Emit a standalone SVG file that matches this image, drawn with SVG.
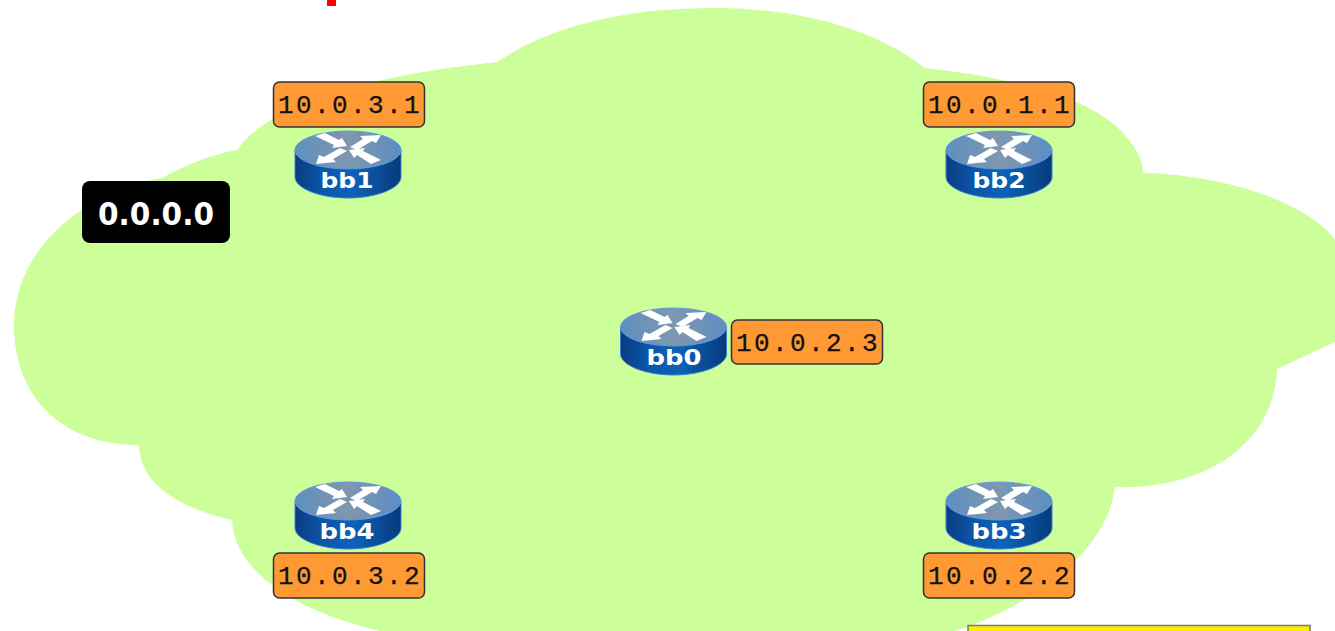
<svg xmlns="http://www.w3.org/2000/svg" xmlns:xlink="http://www.w3.org/1999/xlink" width="1335" height="631" viewBox="0 0 1335 631">
<style>
.lbl{fill:#ff9933;stroke:#333;stroke-width:1.5}
.ip{font-family:"Liberation Mono",monospace;font-size:26px;fill:#111;letter-spacing:2.4px;text-anchor:middle;stroke:#111;stroke-width:.25}
.rn{font-family:"DejaVu Sans",sans-serif;font-weight:700;font-size:22px;fill:#fff;text-anchor:middle}
.arr{fill:#fff}
</style>
<defs>
<linearGradient id="side" x1="0" x2="1" y1="0" y2="0">
<stop offset="0" stop-color="#0a3c80"/><stop offset=".25" stop-color="#0b55a8"/><stop offset=".55" stop-color="#0d62b8"/><stop offset="1" stop-color="#073a7c"/>
</linearGradient>
<linearGradient id="top" x1="0" x2="1" y1="0" y2="0">
<stop offset="0" stop-color="#5f8fc0"/><stop offset=".5" stop-color="#7f97ae"/><stop offset="1" stop-color="#5c8ec4"/>
</linearGradient>
<g id="router">
<path d="M0 19V46C0 57 24 67 53 67S106 57 106 46V19Z" fill="url(#side)" stroke="#3f7fd0" stroke-width="1"/>
<ellipse cx="53" cy="19" rx="53" ry="19" fill="url(#top)" stroke="#5f9ae0" stroke-width="1"/>
<path class="arr" d="M20 5L30 2L44 9L47 7L52 15L37 17L39 14Z"/>
<path class="arr" d="M55 16L68 8L65 5L86 4L81 12L77 10L62 19Z"/>
<path class="arr" d="M52 20L38 28L41 31L21 33L24 24L29 26L45 17Z"/>
<path class="arr" d="M86 29L76 33L62 24L59 27L54 19L70 17L68 20Z"/>
</g>
</defs>
<rect width="1335" height="631" fill="#fff"/>
<rect x="327" y="0" width="9" height="6" fill="#ff0000"/>
<path id="cloud" fill="#ccff99" d="M497 62C560 20 640 8 715 8C790 8 870 25 925 68C1010 78 1090 95 1125 135C1138 150 1143 162 1143 173C1230 175 1310 205 1335 240V342L1277 369C1275 440 1210 490 1115 487C1105 560 1020 610 955 631H380C300 612 235 575 232 520C180 508 140 485 139 445C60 445 14 395 14 325C14 245 90 190 162 178C185 165 210 155 237 150C262 115 330 80 497 62Z"/>
<g id="connectors"></g>
<g id="node-0000"><rect x="82" y="181" width="148" height="62" rx="8" fill="#000"/><text x="156" y="225" font-family="'DejaVu Sans',sans-serif" font-weight="700" font-size="32" fill="#fff" text-anchor="middle" textLength="116" lengthAdjust="spacingAndGlyphs">0.0.0.0</text></g>
<g id="bb1"><use xlink:href="#router" href="#router" x="295" y="131"/><text class="rn" x="347" y="188" textLength="53" lengthAdjust="spacingAndGlyphs">bb1</text><rect class="lbl" x="273.500" y="82" width="151" height="45" rx="6"/><text class="ip" x="350" y="113">10.0.3.1</text></g>
<g id="bb2"><use xlink:href="#router" href="#router" x="946" y="131"/><text class="rn" x="999" y="188" textLength="53" lengthAdjust="spacingAndGlyphs">bb2</text><rect class="lbl" x="923.500" y="82" width="151" height="45" rx="6"/><text class="ip" x="1000" y="113">10.0.1.1</text></g>
<g id="bb0"><use xlink:href="#router" href="#router" x="620.500" y="308"/><text class="rn" x="674" y="365" textLength="55" lengthAdjust="spacingAndGlyphs">bb0</text><rect class="lbl" x="731.500" y="320" width="151" height="44" rx="6"/><text class="ip" x="808" y="351">10.0.2.3</text></g>
<g id="bb4"><use xlink:href="#router" href="#router" x="295" y="482"/><text class="rn" x="347" y="539" textLength="55" lengthAdjust="spacingAndGlyphs">bb4</text><rect class="lbl" x="273.500" y="553" width="151" height="45" rx="6"/><text class="ip" x="350" y="584">10.0.3.2</text></g>
<g id="bb3"><use xlink:href="#router" href="#router" x="946" y="482"/><text class="rn" x="999" y="539" textLength="55" lengthAdjust="spacingAndGlyphs">bb3</text><rect class="lbl" x="923.500" y="553" width="151" height="45" rx="6"/><text class="ip" x="1000" y="584">10.0.2.2</text></g>
<rect x="968" y="625.500" width="342" height="12" fill="#ffee00" stroke="#777" stroke-width="1.5"/>
</svg>
